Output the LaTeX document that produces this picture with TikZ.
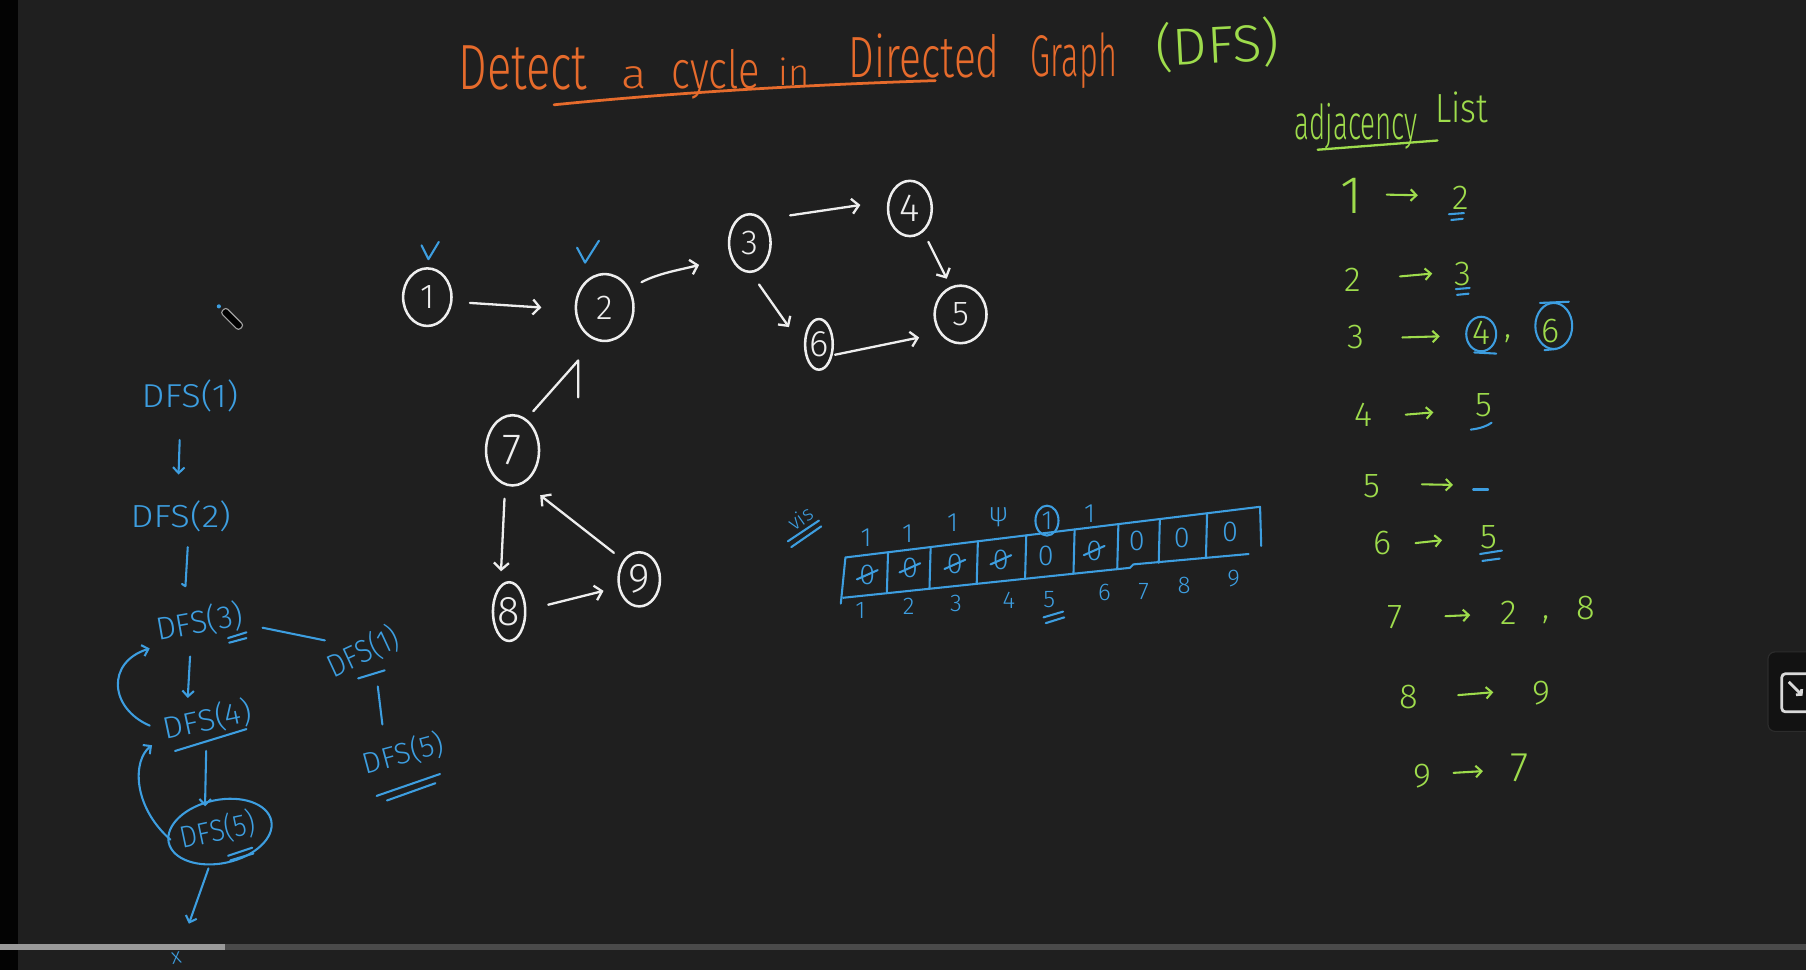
\documentclass[tikz,border=0pt]{standalone}
\usepackage{fontspec}
\setmainfont{Fira Sans Light}
\usetikzlibrary{arrows.meta,shapes.geometric}
\newcommand\fitbox[3]{\resizebox*{#1pt}{#2pt}{#3}}
\newcommand\fith[3]{\resizebox{#1pt}{#2pt}{#3}}
\definecolor{bgc}{HTML}{1F1F1F}
\definecolor{blk}{HTML}{030303}
\definecolor{wh}{HTML}{EEEEEE}
\definecolor{bl}{HTML}{3D9EE0}
\definecolor{gr}{HTML}{9EDC4C}
\definecolor{orr}{HTML}{E66B2C}
\definecolor{barlight}{HTML}{9A9A9A}
\definecolor{bardark}{HTML}{4A4A4A}
\definecolor{iconbg}{HTML}{121212}
\definecolor{iconbd}{HTML}{2C2C2C}
\definecolor{icon}{HTML}{D9D9D9}
\tikzset{
  gnode/.style={ellipse, draw=wh, line width=2.2pt, inner sep=0pt, text=wh, font=\fontsize{30}{30}\selectfont},
  warr/.style={draw=wh, line width=2pt, line cap=round, -{Straight Barb[length=6pt,width=13pt]}},
  wline/.style={draw=wh, line width=2pt, line cap=round, line join=round},
  barr/.style={draw=bl, line width=1.8pt, line cap=round, -{Straight Barb[length=5pt,width=10pt]}},
  bline/.style={draw=bl, line width=1.8pt, line cap=round, line join=round},
  btext/.style={text=bl, inner sep=0pt},
  gtext/.style={text=gr, inner sep=0pt, font=\fontsize{30}{30}\selectfont},
  garr/.style={draw=gr, line width=1.8pt, line cap=round, -{Straight Barb[length=5pt,width=10pt]}},
  gline/.style={draw=gr, line width=2pt, line cap=round},
  otext/.style={text=orr, inner sep=0pt, anchor=base},
  vtop/.style={text=bl, inner sep=0pt, font=\fontsize{23}{23}\selectfont},
  vval/.style={text=bl, inner sep=0pt, font=\fontsize{25}{25}\selectfont},
  vbot/.style={text=bl, inner sep=0pt, font=\fontsize{21}{21}\selectfont},
}
\begin{document}
\begin{tikzpicture}[x=1pt,y=-1pt]
\useasboundingbox (0,0) rectangle (1568,842);
\clip (0,0) rectangle (1568,842);
\fill[bgc] (0,0) rectangle (1568,842);
\fill[blk] (0,0) rectangle (15.6,842);

% ---------- title ----------
\node[otext] (t1) at (454,78) {\fith{112}{38}{Detect}};
\node[otext] (t2) at (551,77) {\fith{22}{19}{a}};
\node[otext] (t3) at (621.5,77) {\fith{77}{34}{cycle}};
\node[otext] (t4) at (689.5,74) {\fith{27}{24}{in}};
\node[otext] (t5) at (802.5,67) {\fith{131}{38}{Directed}};
\node[otext] (t6) at (932.5,66) {\fith{75}{38}{Graph}};
\node[text=gr, inner sep=0pt, rotate=3] (t7) at (1057,39) {\fitbox{108}{44}{(DFS)}};
\draw[draw=orr, line width=2.4pt, line cap=round] (481,91) .. controls (600,79) and (720,73) .. (812,70);

% ---------- graph ----------
\node[gnode, minimum width=42pt, minimum height=50pt] (n1) at (371,258) {1};
\node[gnode, minimum width=50pt, minimum height=58pt] (n2) at (525,267) {2};
\node[gnode, minimum width=36pt, minimum height=50pt] (n3) at (651,211) {3};
\node[gnode, minimum width=38pt, minimum height=48pt, font=\fontsize{34}{34}\selectfont] (n4) at (790,181) {4};
\node[gnode, minimum width=45pt, minimum height=50pt] (n5) at (834,273) {5};
\node[gnode, minimum width=24pt, minimum height=44pt, font=\fontsize{32}{32}\selectfont] (n6) at (711,299) {6};
\node[gnode, minimum width=46pt, minimum height=61pt, font=\fontsize{38}{38}\selectfont] (n7) at (445,391) {7};
\node[gnode, minimum width=28pt, minimum height=51pt, font=\fontsize{36}{36}\selectfont] (n8) at (442,531) {8};
\node[gnode, minimum width=36pt, minimum height=47pt, font=\fontsize{36}{36}\selectfont] (n9) at (555,503) {9};

\draw[warr] ([shift={(37,5)}]n1.center) -- ([shift={(-55,0)}]n2.center);
\draw[warr] ([shift={(32,-22)}]n2.center) .. controls +(15,-8) and +(-15,4) .. ([shift={(-44,19)}]n3.center);
\draw[warr] ([shift={(35,-24)}]n3.center) -- ([shift={(-43,-3)}]n4.center);
\draw[warr] ([shift={(16,29)}]n4.center) -- ([shift={(-12,-31)}]n5.center);
\draw[warr] ([shift={(8,36)}]n3.center) -- ([shift={(-26,-15)}]n6.center);
\draw[warr] ([shift={(14,9)}]n6.center) -- ([shift={(-36,20)}]n5.center);
\draw[wline] ([shift={(18,-34)}]n7.center) -- ([shift={(-23,46)}]n2.center) -- ++(0,32);
\draw[warr] ([shift={(-7,42)}]n7.center) -- ([shift={(-7,-35)}]n8.center);
\draw[warr] ([shift={(34,-6)}]n8.center) -- ([shift={(-31,10)}]n9.center);
\draw[warr] ([shift={(-22,-23)}]n9.center) -- ([shift={(24,39)}]n7.center);

% check marks
\draw[bline] (366,213) -- (372,225) -- (381,210);
\draw[bline] (501,215) -- (508,228) -- (520,209);

% ---------- adjacency list ----------
\node[gtext] (adj) at (1177.5,110) {\fitbox{107}{40}{adjacency}};
\node[gtext] (lst) at (1269,93.5) {\fitbox{46}{27}{List}};
\draw[gline] (1144,130) -- (1248,122);

\node[gtext, font=\fontsize{46}{46}\selectfont] (a1) at (1173,170) {1};
\node[gtext] (b1) at (1268,171.5) {2};
\draw[garr] ([shift={(31,-1)}]a1.center) -- ([shift={(-37,-2)}]b1.center);
\draw[bline] (1258,186) -- (1271,185);
\draw[bline] (1260,191) -- (1270,190);

\node[gtext] (a2) at (1174.5,243) {2};
\node[gtext] (b2) at (1270.5,237.5) {3};
\draw[garr] ([shift={(41,-3)}]a2.center) -- ([shift={(-27,0)}]b2.center);
\draw[bline] (1264,251) -- (1276,250);
\draw[bline] (1265,256) -- (1275,255);

\node[gtext] (a3) at (1177.5,293) {3};
\node[gtext] (b3) at (1286,289) {4};
\node[gtext] (k3) at (1309,294) {,};
\node[gtext] (c3) at (1346,287) {6};
\draw[garr] ([shift={(40,0)}]a3.center) -- ([shift={(-36,3)}]b3.center);
\draw[bline] (1286,290) ellipse (13pt and 15pt);
\draw[bline] (1349,283) ellipse (16pt and 20pt);
\draw[bline] (1280,306) -- (1299,307);
\draw[bline] (1337,263) -- (1362,262);
\draw[bline] (1341,304) -- (1351,303);

\node[gtext] (a4) at (1183.5,360) {4};
\node[gtext] (b4) at (1288.5,352) {5};
\draw[garr] ([shift={(37,0)}]a4.center) -- ([shift={(-44,6)}]b4.center);
\draw[bline] (1277,373) .. controls (1285,372) and (1291,370) .. (1295,367);

\node[gtext] (a5) at (1191.5,422.5) {5};
\coordinate (b5) at (1285.5,425);
\draw[garr] ([shift={(43,-2)}]a5.center) -- ([shift={(-24,-4)}]b5);
\draw[bline] (1279,425) -- (1292,425);

\node[gtext] (a6) at (1200,471.5) {6};
\node[gtext] (b6) at (1293,466) {5};
\draw[garr] ([shift={(29,0)}]a6.center) -- ([shift={(-41,3)}]b6.center);
\draw[bline] (1285,481) -- (1304,478);
\draw[bline] (1287,487) -- (1302,485);

\node[gtext] (a7) at (1211,536) {7};
\node[gtext] (b7) at (1309.5,532) {2};
\node[gtext] (k7) at (1342,538) {,};
\node[gtext] (c7) at (1376.5,528) {8};
\draw[garr] ([shift={(44,-1)}]a7.center) -- ([shift={(-33,2)}]b7.center);

\node[gtext] (a8) at (1223,605.5) {8};
\node[gtext] (b8) at (1338.5,602) {9};
\draw[garr] ([shift={(43,-2)}]a8.center) -- ([shift={(-42,-1)}]b8.center);

\node[gtext] (a9) at (1235,674) {9};
\node[gtext, font=\fontsize{36}{36}\selectfont] (b9) at (1319.5,666.5) {7};
\draw[garr] ([shift={(27,-3)}]a9.center) -- ([shift={(-32,3)}]b9.center);

% ---------- vis array ----------
\node[text=bl, inner sep=0pt, font=\fontsize{18}{18}\selectfont, rotate=35] (vis) at (695,450) {vis};
\draw[bline] (684,470) -- (711,452);
\draw[bline] (687,475) -- (713,457);

\draw[bline] (730,524) -- (734,484) -- (1094,440) -- (1095,474);
\draw[bline] (732,519) -- (981,493) -- (984,490) -- (1084,481);
\foreach \x/\yt/\yb in {771/479.5/514.3, 808/475/510.5, 849/470/506.4, 891/464.8/502.1, 933/459.7/497.9, 971/455/494, 1007/450.7/488.7, 1048/445.7/484.6}
  \draw[bline] (\x,\yt) -- (\x-1,\yb);

\foreach \i/\x/\y in {1/753/499, 2/790/493, 3/829/490, 4/869/486, 5/908/483, 6/950/478, 7/987/470, 8/1026/467, 9/1068/462}
  \node[vval] (v\i) at (\x,\y) {0};
\foreach \i in {1,2,3,4,6}
  \draw[bline] ([shift={(-9,4)}]v\i.center) -- ([shift={(9,-4)}]v\i.center);

\node[vtop] (u1) at (752,467) {1};
\node[vtop] (u2) at (788,463) {1};
\node[vtop] (u3) at (827,454) {1};
\node[vtop] (u4) at (867,449) {ψ};
\node[vtop] (u5) at (909,452) {1};
\draw[bline] (u5.center) ellipse (10pt and 13pt);
\node[vtop] (u6) at (946,446) {1};

\foreach \i/\x/\y in {1/747/530, 2/789/526, 3/830/524, 4/876/521, 5/911/521, 6/959/514, 7/993/514, 8/1028/508, 9/1071/502}
  \node[vbot] (w\i) at (\x,\y) {\i};
\draw[bline] (906,536) -- (923,531);
\draw[bline] (908,541) -- (924,536);

% ---------- DFS recursion tree ----------
\node[btext] (d1) at (165,344) {\fitbox{84}{28}{DFS(1)}};
\node[btext] (d2) at (157,448) {\fitbox{87}{27}{DFS(2)}};
\node[btext, rotate=10] (d3) at (173,540) {\fitbox{76}{27}{DFS(3)}};
\node[btext, rotate=12] (d4) at (180,625) {\fitbox{78}{26}{DFS(4)}};
\node[btext, rotate=12] (d5) at (189,721) {\fitbox{66}{26}{DFS(5)}};
\node[ellipse, draw=bl, line width=1.8pt, minimum width=91pt, minimum height=55pt, rotate=12] (d5e) at (191,722) {};
\node[btext, rotate=25] (r1) at (315,566) {\fitbox{66}{27}{DFS(1)}};
\node[btext, rotate=15] (r2) at (350,654) {\fitbox{72}{25}{DFS(5)}};
\node[btext, font=\fontsize{19}{19}\selectfont, rotate=10] (xx) at (153,832) {x};

\draw[barr] ([shift={(-9,38)}]d1.center) -- ([shift={(-2,-36)}]d2.center);
\draw[bline] ([shift={(6,27)}]d2.center) -- ([shift={(4,61)}]d2.center) -- ([shift={(1,59)}]d2.center);
\draw[bline] ([shift={(55,5)}]d3.center) -- ([shift={(-33,-10)}]r1.center);
\draw[bline] ([shift={(13,30)}]r1.center) -- ([shift={(-18,-25)}]r2.center);
\draw[barr] ([shift={(-8,30)}]d3.center) -- ([shift={(-17,-19)}]d4.center);
\draw[barr] ([shift={(-50,5)}]d4.center) .. controls +(-35,-15) and +(-38,12) .. ([shift={(-43,23)}]d3.center);
\draw[barr] ([shift={(-1,27)}]d4.center) -- ([shift={(-13,-22)}]d5e.center);
\draw[barr] ([shift={(-43,7)}]d5e.center) .. controls +(-33,-29) and +(-17,13) .. ([shift={(-48,22)}]d4.center);
\draw[barr] ([shift={(-10,32)}]d5e.center) -- ([shift={(11,-30)}]xx.center);

\draw[bline] (198,554) -- (214,549);
\draw[bline] (199,558) -- (214,554);
\draw[bline] (311,589) -- (334,582);
\draw[bline] (327,691) -- (382,672);
\draw[bline] (336,695) -- (378,680);
\draw[bline] (152,652) -- (214,633);
\draw[bline] (198,743) -- (219,736);
\draw[bline] (200,747) -- (220,741);

% ---------- pencil cursor ----------
\begin{scope}[rotate around={-45:(201,276)}]
  \draw[draw=gray!75, fill=black, line width=1pt, rounded corners=2.5pt] (191,273) rectangle (213,279.5);
\end{scope}
\fill[bl] (190,266) circle (1.8pt);

% ---------- right-side icon ----------
\draw[fill=iconbg, draw=iconbd, line width=1pt, rounded corners=6pt] (1535,566) rectangle (1590,635);
\draw[draw=icon, line width=2.4pt, rounded corners=3pt] (1547,585) rectangle (1580,618);
\draw[draw=icon, line width=2.4pt, -{Straight Barb[length=3pt,width=7pt]}] (1553,592) -- (1565,604);

% ---------- progress bar ----------
\fill[bardark] (195,819.5) rectangle (1568,824.8);
\fill[barlight] (0,819.5) rectangle (195,824.8);
\end{tikzpicture}
\end{document}
